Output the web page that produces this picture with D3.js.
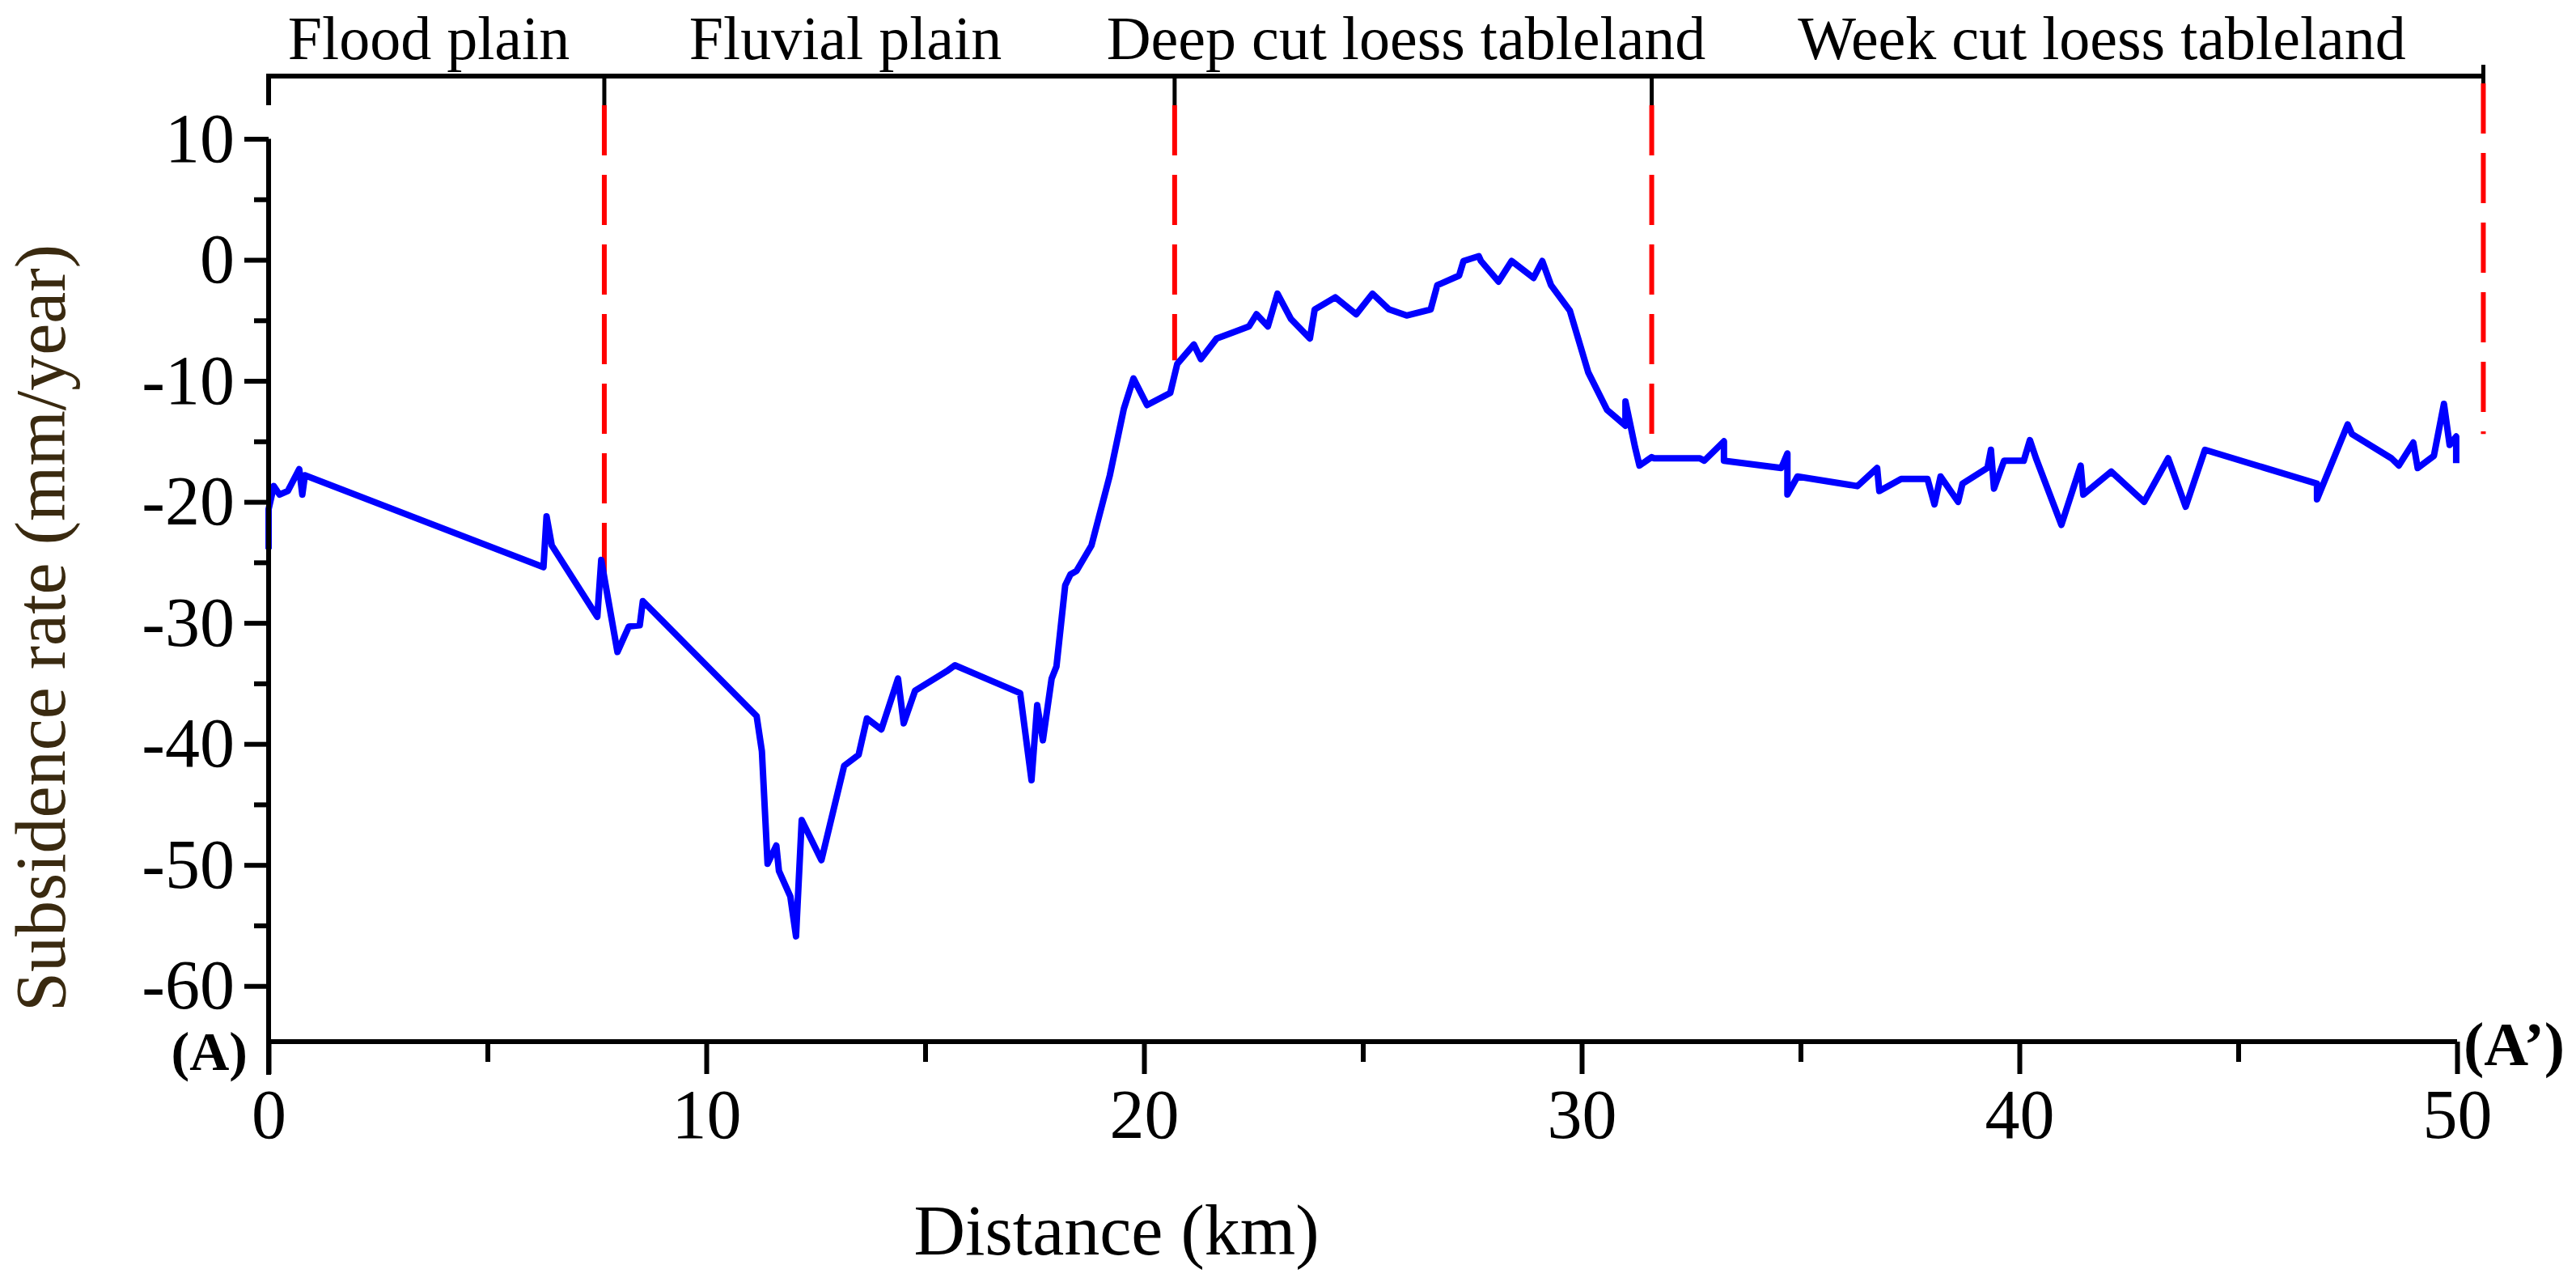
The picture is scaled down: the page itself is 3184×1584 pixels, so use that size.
<!DOCTYPE html>
<html><head><meta charset="utf-8">
<script src="https://cdn.jsdelivr.net/npm/d3@7"></script>
<style>body{margin:0;background:#fff}</style></head>
<body><svg id="c" width="3184" height="1584"></svg>
<script>
const distance = [0,0,0.12,0.25,0.44,0.70,0.77,0.83,6.28,6.35,6.47,7.51,7.6,7.76,7.97,8.23,8.48,8.55,11.15,11.27,11.4,11.6,11.66,11.92,12.05,12.18,12.63,13.15,13.48,13.67,14.0,14.38,14.51,14.77,15.49,15.68,16.65,17.17,17.43,17.56,17.69,17.89,18.0,18.2,18.32,18.46,18.8,19.22,19.54,19.76,20.07,20.6,20.76,21.14,21.3,21.66,22.4,22.57,22.83,23.05,23.36,23.79,23.9,24.37,24.85,25.22,25.6,26.0,26.55,26.7,27.2,27.3,27.65,27.7,28.1,28.4,28.9,29.1,29.3,29.73,30.15,30.58,31.0,31.0,31.22,31.32,31.6,31.66,32.7,32.8,33.25,33.25,34.56,34.7,34.7,34.93,36.3,36.75,36.8,37.3,37.9,38.06,38.2,38.6,38.7,39.27,39.35,39.42,39.65,40.1,40.24,40.38,40.96,41.4,41.46,42.1,42.85,43.4,43.8,44.24,46.8,46.8,47.5,47.6,48.5,48.67,49.0,49.1,49.47,49.7,49.83,49.98,49.98];
const rate = [-23.9,-20.6,-18.7,-19.4,-19.1,-17.3,-19.4,-17.8,-25.4,-21.2,-23.6,-29.5,-24.8,-28.1,-32.4,-30.3,-30.2,-28.2,-37.7,-40.6,-49.9,-48.4,-50.5,-52.6,-55.9,-46.3,-49.6,-41.8,-40.9,-37.9,-38.8,-34.6,-38.3,-35.6,-34.0,-33.5,-35.0,-35.8,-43.0,-36.8,-39.7,-34.6,-33.6,-26.9,-26.0,-25.7,-23.6,-17.8,-12.3,-9.8,-12.0,-11.0,-8.6,-7.0,-8.2,-6.5,-5.5,-4.5,-5.5,-2.8,-4.9,-6.5,-4.1,-3.1,-4.5,-2.8,-4.1,-4.6,-4.1,-2.1,-1.3,-0.1,0.3,-0.1,-1.8,-0.1,-1.5,-0.1,-2.1,-4.2,-9.3,-12.4,-13.7,-11.7,-15.5,-17.0,-16.3,-16.4,-16.4,-16.6,-15.0,-16.6,-17.2,-16.0,-19.4,-17.9,-18.7,-17.2,-19.1,-18.1,-18.1,-20.2,-17.9,-20.0,-18.5,-17.2,-15.7,-18.9,-16.6,-16.6,-14.9,-16.4,-21.9,-17.0,-19.4,-17.5,-20.0,-16.4,-20.4,-15.7,-18.5,-19.8,-13.6,-14.4,-16.4,-17.0,-15.1,-17.2,-16.2,-11.9,-15.3,-14.6,-16.8];
const zoneNames = ["Flood plain","Fluvial plain","Deep cut loess tableland","Week cut loess tableland"];
const zoneBounds = [0,7.67,20.7,31.6,50.6];
const boundaryEnds = [-26.0,-8.3,-15.8,-14.4];
const xTicks = [0,10,20,30,40,50];
const yTicks = [10,0,-10,-20,-30,-40,-50,-60];

const svg = d3.select("#c");
const x = d3.scaleLinear().domain([0,50]).range([332,3037]);
const y = d3.scaleLinear().domain([-64.6,10]).range([1287,171.5]);
const font = "'Liberation Serif','Times New Roman',serif";

zoneBounds.slice(1).forEach((b,i)=>{
  const last = i===3;
  const topBlack = last?80:94, startRed = last?103:130;
  svg.append("line").attr("x1",x(b)).attr("x2",x(b)).attr("y1",topBlack).attr("y2",startRed)
    .attr("stroke","#000").attr("stroke-width",5);
  svg.append("line").attr("x1",x(b)).attr("x2",x(b)).attr("y1",startRed).attr("y2",y(boundaryEnds[i]))
    .attr("stroke","#ff0000").attr("stroke-width",6).attr("stroke-dasharray","62,24");
});
svg.append("line").attr("x1",x(0)).attr("x2",x(50.6)).attr("y1",94).attr("y2",94).attr("stroke","#000").attr("stroke-width",6);
svg.append("line").attr("x1",x(0)).attr("x2",x(0)).attr("y1",91).attr("y2",130).attr("stroke","#000").attr("stroke-width",6);
const labelCenters=[530,1045,1738,2598];
zoneNames.forEach((n,i)=>{
  svg.append("text").attr("x",labelCenters[i]).attr("y",73).attr("text-anchor","middle")
    .attr("font-family",font).attr("font-size",76).text(n);
});

svg.append("path").datum(distance.map((d,i)=>[d,rate[i]]))
  .attr("d",d3.line().x(d=>x(d[0])).y(d=>y(d[1])))
  .attr("fill","none").attr("stroke","#0000ff").attr("stroke-width",8).attr("stroke-linejoin","round");

const xa = svg.append("g").attr("transform","translate(0,1287)")
  .call(d3.axisBottom(x).tickValues(xTicks).tickSize(40).tickPadding(18).tickFormat(d3.format("d")));
svg.append("g").attr("transform","translate(0,1287)")
  .call(d3.axisBottom(x).tickValues(d3.range(5,50,10)).tickSize(25).tickFormat(""))
  .call(g=>g.select(".domain").remove());
const ya = svg.append("g").attr("transform","translate(332,0)")
  .call(d3.axisLeft(y).tickValues(yTicks).tickSize(30).tickPadding(12).tickFormat(d=>String(d)));
svg.append("g").attr("transform","translate(332,0)")
  .call(d3.axisLeft(y).tickValues(d3.range(-55,10,10)).tickSize(18).tickFormat(""))
  .call(g=>g.select(".domain").remove());
svg.selectAll("g").attr("font-family",font);
svg.selectAll(".domain").attr("stroke","#000").attr("stroke-width",6);
svg.selectAll(".tick line").attr("stroke","#000").attr("stroke-width",6);
svg.selectAll(".tick text").attr("font-family",font).attr("font-size",86).attr("fill","#000");
ya.select(".domain").attr("d","M0,171.5V1287");
xa.select(".domain").attr("d","M332,0H3037");
svg.append("line").attr("x1",332).attr("x2",332).attr("y1",1287).attr("y2",1328).attr("stroke","#000").attr("stroke-width",6);

svg.append("text").attr("x",306).attr("y",1322).attr("text-anchor","end").attr("font-family",font)
  .attr("font-weight","bold").attr("font-size",68).text("(A)");
svg.append("text").attr("x",3045).attr("y",1316).attr("font-family",font)
  .attr("font-weight","bold").attr("font-size",76).text("(A’)");

svg.append("text").attr("x",1380).attr("y",1550).attr("text-anchor","middle").attr("font-family",font)
  .attr("font-size",88).text("Distance (km)");
svg.append("text").attr("transform","translate(80,776) rotate(-90)").attr("text-anchor","middle")
  .attr("font-family",font).attr("font-size",88).attr("fill","#3a2a10").text("Subsidence rate (mm/year)");
</script></body></html>
